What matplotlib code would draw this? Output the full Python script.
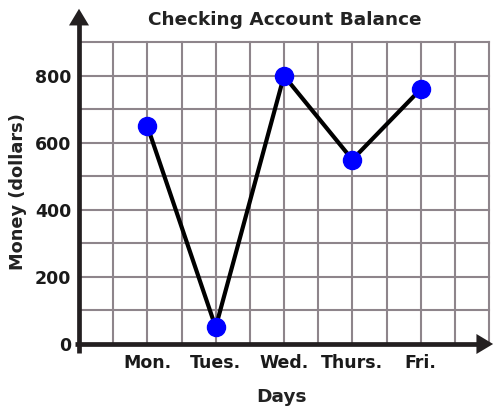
import matplotlib
matplotlib.use("Agg")
import matplotlib.pyplot as plt

days = ["Mon.", "Tues.", "Wed.", "Thurs.", "Fri."]
day_pos = [2, 4, 6, 8, 10]
balance = [650, 50, 800, 550, 760]
ytick_vals = [0, 200, 400, 600, 800]

plt.rcParams['font.family'] = ['DejaVu Sans']

W, H = 494, 418
fig = plt.figure(figsize=(W/100, H/100), dpi=100)
ax = fig.add_axes([79/W, 1-344/H, 410/W, (344-42.3)/H])
ax.set_xlim(0, 12)
ax.set_ylim(0, 900)

# grid
ax.set_xticks(range(0, 13))
ax.set_xticklabels([days[day_pos.index(i)] if i in day_pos else "" for i in range(13)])
ax.set_yticks(range(0, 901, 100))
ax.set_yticklabels([str(v) if v in ytick_vals else "" for v in range(0, 901, 100)])
ax.grid(True, color="#8e858b", linewidth=1.5, zorder=0)
for gl in ax.get_xgridlines() + ax.get_ygridlines():
    gl.set_clip_on(False)
ax.tick_params(length=0, labelsize=12.5)
ax.tick_params(axis='x', pad=7.5)
ax.tick_params(axis='y', pad=5.5)
for lab in ax.get_xticklabels() + ax.get_yticklabels():
    lab.set_fontweight('bold')
    lab.set_color('#1a1a1a')
for s in ax.spines.values():
    s.set_visible(False)

# axes lines with arrows
axc = "#231f20"
ax.plot([-0.12, 11.7], [0, 0], color=axc, lw=3.4, clip_on=False, zorder=5, solid_capstyle='butt')
ax.plot([0, 0], [-27, 955], color=axc, lw=3.4, clip_on=False, zorder=5, solid_capstyle='butt')
ax.annotate("", xy=(12.12, 0), xytext=(11.5, 0),
            arrowprops=dict(arrowstyle="-|>,head_length=1.2,head_width=0.72", color=axc, lw=0, shrinkA=0, shrinkB=0),
            annotation_clip=False, zorder=6)
ax.annotate("", xy=(0, 1000), xytext=(0, 930),
            arrowprops=dict(arrowstyle="-|>,head_length=1.2,head_width=0.72", color=axc, lw=0, shrinkA=0, shrinkB=0),
            annotation_clip=False, zorder=6)

# data
ax.plot(day_pos, balance, color="black", lw=3, zorder=7, clip_on=False,
        marker='o', markersize=13, markerfacecolor="#0000ff", markeredgecolor="#0000ff")

fig.text(285/W, 1-20/H, "Checking Account Balance", ha='center', va='center',
         fontsize=13.3, fontweight='bold', color='#222222')
fig.text(282/W, 1-397/H, "Days", ha='center', va='center',
         fontsize=13.3, fontweight='bold', color='#222222')
fig.text(18/W, 1-191.5/H, "Money (dollars)", ha='center', va='center', rotation=90,
         fontsize=12.8, fontweight='bold', color='#222222')

fig.savefig("out.png", dpi=100)
